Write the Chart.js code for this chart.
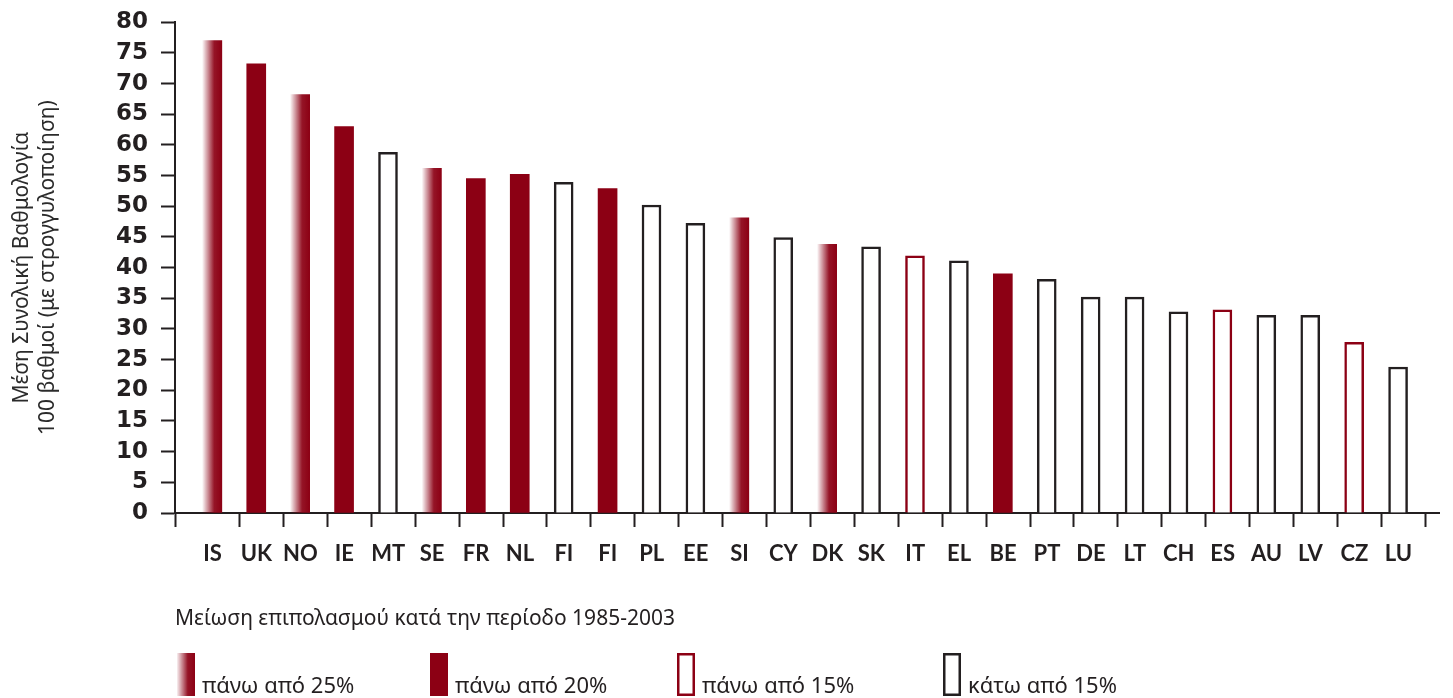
<!DOCTYPE html>
<html lang="el">
<head>
<meta charset="utf-8">
<title>Μέση Συνολική Βαθμολογία</title>
<script src="https://cdn.jsdelivr.net/npm/chart.js@4.4.1/dist/chart.umd.min.js"></script>
<style>
  html, body { margin: 0; padding: 0; background: #ffffff; }
  #wrap { width: 1453px; height: 698px; }
</style>
</head>
<body>
<div id="wrap"><canvas id="chart" width="1453" height="698"></canvas></div>
<script>
// Countries, in the order the bars are drawn
const countries = ['IS', 'UK', 'NO', 'IE', 'MT', 'SE', 'FR', 'NL', 'FI', 'FI', 'PL', 'EE', 'SI', 'CY',
                   'DK', 'SK', 'IT', 'EL', 'BE', 'PT', 'DE', 'LT', 'CH', 'ES', 'AU', 'LV', 'CZ', 'LU'];

// Average total score (out of 100, rounded)
const scores = [77.0, 73.2, 68.2, 63.0, 58.8, 56.2, 54.5, 55.2, 53.9, 52.9, 50.2, 47.2, 48.1, 44.9,
                43.8, 43.4, 41.9, 41.1, 39.0, 38.1, 35.2, 35.2, 32.8, 33.1, 32.2, 32.2, 27.8, 23.8];

// Prevalence reduction band 1985-2003 for each country
const bands = ['over25', 'over20', 'over25', 'over20', 'under15', 'over25', 'over20', 'over20', 'under15', 'over20',
               'under15', 'under15', 'over25', 'under15', 'over25', 'under15', 'over15', 'under15', 'over20', 'under15',
               'under15', 'under15', 'under15', 'over15', 'under15', 'under15', 'over15', 'under15'];

const bandKeys = ['over25', 'over20', 'over15', 'under15'];
const bandLabels = ['πάνω από 25%', 'πάνω από 20%', 'πάνω από 15%', 'κάτω από 15%'];
const legendTitle = 'Μείωση επιπολασμού κατά την περίοδο 1985-2003';
const yTitleLines = ['Μέση Συνολική Βαθμολογία', '100 βαθμοί (με στρογγυλοποίηση)'];
const yTickValues = [0, 5, 10, 15, 20, 25, 30, 35, 40, 45, 50, 55, 60, 65, 70, 75, 80];

const RED = '#8c0014';
const INK = '#231f20';
const BAR_W = 19;

function fadeGradient(ctx, left, right) {
  const g = ctx.createLinearGradient(left, 0, right, 0);
  g.addColorStop(0, 'rgba(140,0,20,0.06)');
  g.addColorStop(0.6, 'rgba(140,0,20,0.92)');
  g.addColorStop(1, RED);
  return g;
}

function barFill(c) {
  const band = bands[c.dataIndex];
  if (band === 'over20') return RED;
  if (band === 'over15' || band === 'under15') return '#ffffff';
  const chart = c.chart;
  const xs = chart.scales && chart.scales.x;
  if (!chart.chartArea || !xs) return RED;
  const cx = xs.getPixelForValue(c.dataIndex);
  return fadeGradient(chart.ctx, cx - BAR_W / 2, cx + BAR_W / 2);
}

function barEdge(c) {
  const band = bands[c.dataIndex];
  if (band === 'over15') return RED;
  if (band === 'under15') return INK;
  return 'rgba(0,0,0,0)';
}

function barEdgeWidth(c) {
  const band = bands[c.dataIndex];
  return (band === 'over15' || band === 'under15') ? 2.5 : 0;
}

// Legend for the reduction bands, drawn under the category axis
const bandLegend = {
  id: 'bandLegend',
  afterDraw(chart, args, o) {
    const ctx = chart.ctx;
    ctx.save();
    ctx.fillStyle = INK;
    ctx.textBaseline = 'alphabetic';
    ctx.textAlign = 'left';
    ctx.font = o.titleFont;
    ctx.fillText(legendTitle, o.left, o.titleBaseline);
    ctx.font = o.itemFont;
    bandKeys.forEach((key, k) => {
      const x = o.itemX[k];
      const top = o.boxTop, w = o.boxW, h = o.boxH;
      if (key === 'over25') {
        ctx.fillStyle = fadeGradient(ctx, x, x + w);
        ctx.fillRect(x, top, w, h);
      } else if (key === 'over20') {
        ctx.fillStyle = RED;
        ctx.fillRect(x, top, w, h);
      } else {
        ctx.strokeStyle = key === 'over15' ? RED : INK;
        ctx.lineWidth = 2.5;
        ctx.strokeRect(x + 1.25, top + 1.25, w - 2.5, h - 2.5);
      }
      ctx.fillStyle = INK;
      ctx.fillText(bandLabels[k], x + w + o.textGap, o.textBaseline);
    });
    ctx.restore();
  }
};

new Chart(document.getElementById('chart'), {
  type: 'bar',
  data: {
    datasets: [{
      data: scores.map((v, i) => ({ x: i, y: v })),
      backgroundColor: barFill,
      borderColor: barEdge,
      borderWidth: barEdgeWidth,
      borderSkipped: 'start',
      barThickness: BAR_W
    }]
  },
  options: {
    responsive: false,
    devicePixelRatio: 1,
    animation: false,
    layout: { padding: { top: 20, right: 3, bottom: 0, left: 0 } },
    plugins: {
      legend: { display: false },
      tooltip: { enabled: false },
      bandLegend: {
        titleFont: '21px "Noto Sans"',
        itemFont: '22px "Noto Sans"',
        left: 175,
        titleBaseline: 625,
        itemX: [177, 430, 677, 943],
        boxTop: 653,
        boxW: 18,
        boxH: 43,
        textGap: 7,
        textBaseline: 693
      }
    },
    scales: {
      x: {
        type: 'linear',
        offset: false,
        min: -0.85,
        max: 27.94,
        z: 1,
        afterBuildTicks(scale) {
          scale.ticks = [{ value: scale.min }].concat(countries.map((_, i) => ({ value: i + 0.62 })));
        },
        afterFit(scale) { scale.height = 185; },
        grid: { offset: false, drawOnChartArea: false, tickLength: 14, tickWidth: 2, tickColor: INK },
        border: { color: INK, width: 2 },
        ticks: {
          autoSkip: false,
          maxRotation: 0,
          minRotation: 0,
          labelOffset: -27,
          padding: 14,
          color: INK,
          font: { family: 'Lato', weight: 'bold', size: 22 },
          callback: (v, idx) => (idx === 0 ? '' : countries[idx - 1])
        }
      },
      y: {
        min: 0,
        max: 80,
        z: 1,
        afterBuildTicks(scale) {
          scale.ticks = yTickValues.map(v => ({ value: v }));
        },
        afterFit(scale) { scale.width = 175; },
        grid: { drawOnChartArea: false, tickLength: 14, tickWidth: 2, tickColor: INK },
        border: { color: INK, width: 2 },
        ticks: {
          padding: 13,
          color: INK,
          font: { family: 'DejaVu Sans', weight: 'bold', size: 23, lineHeight: 0.8 }
        },
        title: {
          display: true,
          text: yTitleLines,
          color: '#2b2b2b',
          font: { family: 'Noto Sans', size: 21, lineHeight: 1.24 },
          padding: { top: 9, bottom: 0 }
        }
      }
    }
  },
  plugins: [bandLegend]
});
</script>
</body>
</html>
